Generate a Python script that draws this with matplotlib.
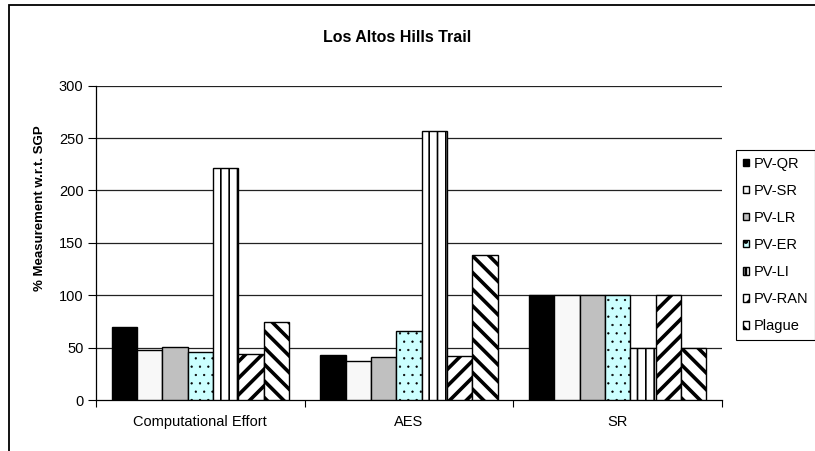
import numpy as np
import matplotlib.pyplot as plt
import matplotlib as mpl
from matplotlib.patches import Rectangle

mpl.rcParams['font.family'] = ['Liberation Sans', 'DejaVu Sans']
mpl.rcParams['hatch.linewidth'] = 2.0

categories = ['Computational Effort', 'AES', 'SR']
series = ['PV-QR', 'PV-SR', 'PV-LR', 'PV-ER', 'PV-LI', 'PV-RAN', 'Plague']
values = {
    'PV-QR':  [70, 43, 100],
    'PV-SR':  [48, 37, 100],
    'PV-LR':  [51, 41, 100],
    'PV-ER':  [46, 66, 100],
    'PV-LI':  [221, 257, 50],
    'PV-RAN': [44, 42, 100],
    'Plague': [74, 138, 50],
}
yticks = [0, 50, 100, 150, 200, 250, 300]

styles = {
    'PV-QR':  dict(facecolor='black', hatch=None, hlw=1.0),
    'PV-SR':  dict(facecolor='#f8f8f8', hatch=None, hlw=1.0),
    'PV-LR':  dict(facecolor='#c0c0c0', hatch=None, hlw=1.0),
    'PV-ER':  dict(facecolor='#ccffff', hatch='..', hlw=0.4),
    'PV-LI':  dict(facecolor='white', hatch='||', hlw=1.2),
    'PV-RAN': dict(facecolor='white', hatch='//', hlw=2.6),
    'Plague': dict(facecolor='white', hatch='\\\\', hlw=2.6),
}

fig = plt.figure(figsize=(8.15, 4.51), dpi=100)
ax = fig.add_axes([96/815, 1-400/451, 626/815, (400-85.7)/451])

x = np.arange(len(categories))
nb = len(series)
bw = 25.3 / 208.7  # bar width as fraction of one category
start = -nb * bw / 2
for i, s in enumerate(series):
    st = styles[s]
    bars = ax.bar(x + start + (i + 0.5) * bw, values[s], width=bw,
                  facecolor=st['facecolor'], edgecolor='black', linewidth=1.0,
                  hatch=st['hatch'], label=s, zorder=3)
    for b in bars:
        if hasattr(b, 'set_hatch_linewidth'):
            b.set_hatch_linewidth(st['hlw'])

ax.set_xlim(-0.5, 2.5)
ax.set_ylim(0, 300)
ax.set_yticks(yticks)
ax.tick_params(axis='y', direction='out', length=6, width=0.8, labelsize=10.5, pad=3)
ax.set_xticks([-0.5, 0.5, 1.5, 2.5])
ax.set_xticklabels([])
ax.set_xticks(x, minor=True)
ax.set_xticklabels(categories, minor=True, fontsize=10.5)
ax.tick_params(axis='x', which='major', direction='out', length=5, width=0.8)
ax.tick_params(axis='x', which='minor', length=0, pad=11)

for yv in yticks[1:]:
    ax.axhline(yv, color='#222222', lw=0.9, zorder=1)

for side in ['top', 'right']:
    ax.spines[side].set_visible(False)
ax.spines['left'].set_linewidth(0.9)
ax.spines['bottom'].set_linewidth(0.9)

fig.text(397/815, 1-38/451, 'Los Altos Hills Trail', ha='center', va='center',
         fontsize=11.5, fontweight='bold')
fig.text(40/815, 1-208/451, '% Measurement w.r.t. SGP', ha='center', va='center',
         rotation=90, fontsize=9.5, fontweight='bold')

leg = ax.legend(loc='upper left', bbox_to_anchor=(736/815, 1-150/451),
                bbox_transform=fig.transFigure, borderaxespad=0,
                fancybox=False, framealpha=1, edgecolor='black',
                fontsize=10.5, handlelength=0.45, handleheight=0.4,
                handletextpad=0.35, labelspacing=0.9, borderpad=0.45)
leg.get_frame().set_linewidth(0.8)

# outer chart border (cut off at right and bottom)
fig.patches.append(Rectangle((9/815, -0.1), 1.2, 1.1 - 5/451, fill=False,
                             edgecolor='black', linewidth=1.3,
                             transform=fig.transFigure, figure=fig))

plt.savefig('out.png', dpi=100)
